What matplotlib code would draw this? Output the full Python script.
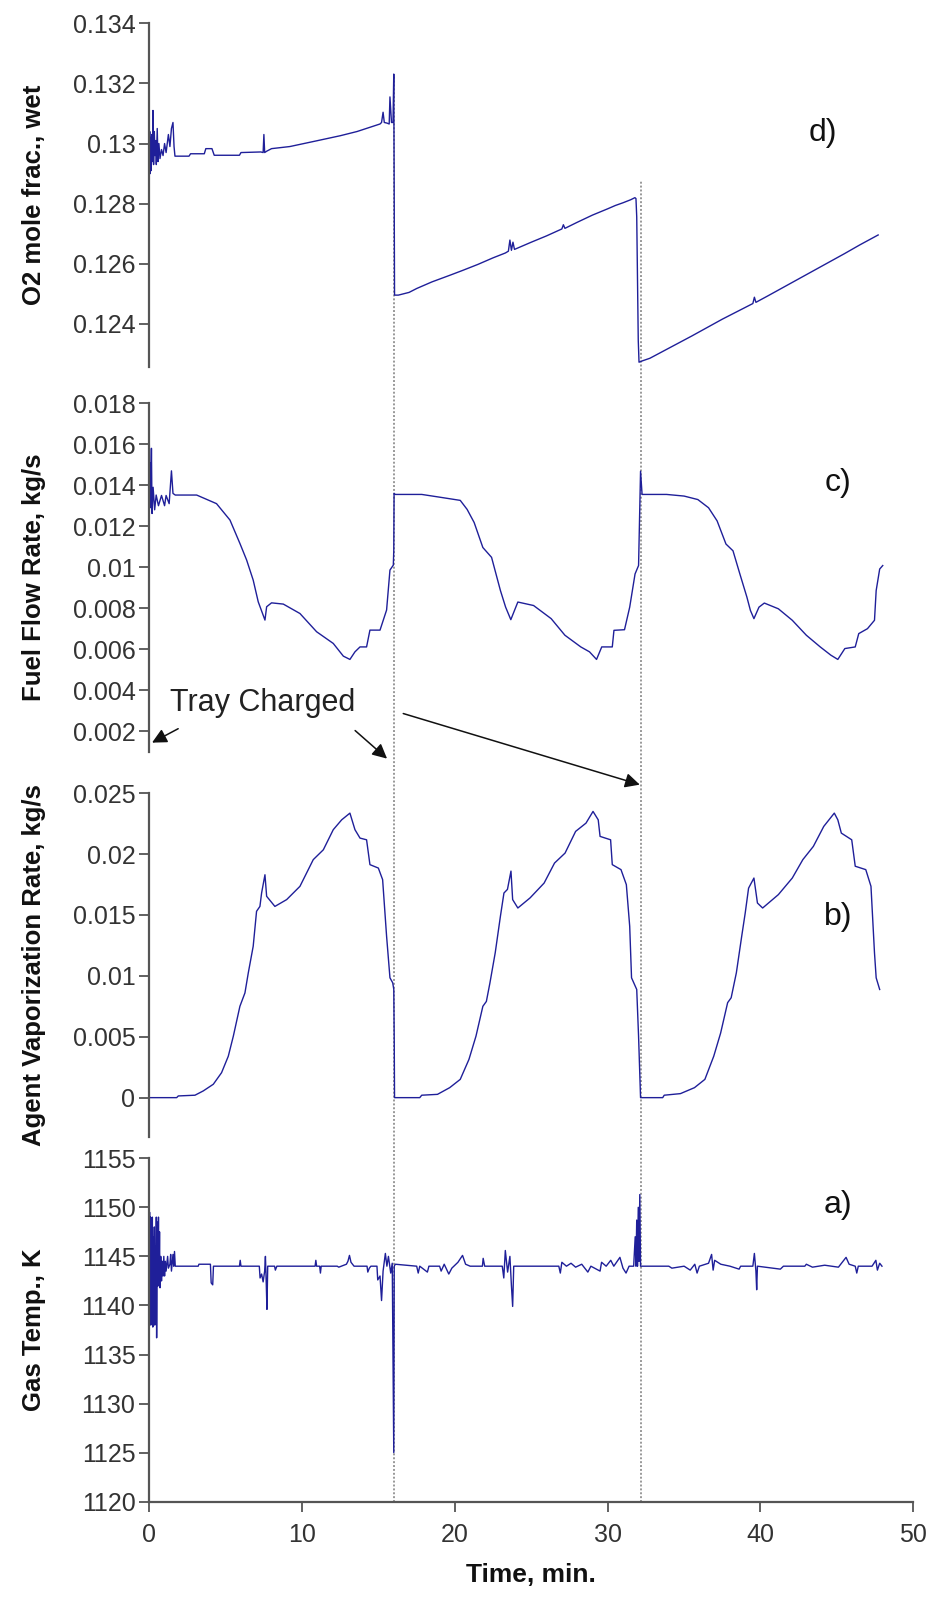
import matplotlib
matplotlib.use("Agg")
import matplotlib.pyplot as plt
import matplotlib.transforms as mtransforms
from matplotlib.lines import Line2D
from matplotlib.ticker import FuncFormatter

plt.rcParams['font.family'] = ['Liberation Sans', 'DejaVu Sans']

# ---------------- data ----------------
# d) O2 mole fraction, wet
time_o2 = [0.0, 0.03, 0.06, 0.09, 0.12, 0.16, 0.2, 0.24, 0.28, 0.33, 0.37, 0.42, 0.46, 0.52, 0.57,
           0.63, 0.7, 0.8, 0.9, 1.0, 1.1, 1.25, 1.35, 1.45, 1.55, 1.62, 1.68, 2.6, 2.7, 3.6, 3.7,
           4.1, 4.25, 5.9, 6.0, 7.3, 7.45, 7.5, 7.55, 7.7, 8.0, 9.2, 10.95, 12.5, 13.6, 14.44,
           15.1, 15.2, 15.3, 15.38, 15.55, 15.7, 15.75, 15.85, 15.95, 16.0, 16.05,
           16.3, 17.0, 17.5, 18.5, 19.67, 20.5, 21.5, 22.5, 23.3, 23.5, 23.6, 23.7, 23.8, 23.9,
           25.0, 26.0, 27.0, 27.1, 27.2, 28.0, 29.0, 30.0, 30.5, 31.0, 31.5, 31.78, 31.85, 31.9,
           32.0, 32.05, 32.3, 32.76, 33.5, 34.5, 35.5, 36.5, 37.5, 38.5, 39.5, 39.6, 39.7, 40.5,
           41.5, 42.5, 43.5, 44.5, 45.5, 46.5, 47.7]
o2 = [0.1293, 0.1304, 0.1290, 0.1302, 0.1291, 0.1303, 0.1294, 0.1311, 0.1293, 0.1304, 0.1296,
      0.1301, 0.1293, 0.1305, 0.1294, 0.1300, 0.1295, 0.1298, 0.1296, 0.1300, 0.1297, 0.1303,
      0.1299, 0.1305, 0.1307, 0.1299, 0.12958, 0.12958, 0.12966, 0.12966, 0.12983, 0.12983,
      0.12961, 0.12961, 0.1297, 0.12972, 0.1297, 0.1303, 0.1297, 0.12975, 0.12983, 0.1299,
      0.13009, 0.13026, 0.1304, 0.13054, 0.13065, 0.1307, 0.13104, 0.1307, 0.13068, 0.13065,
      0.13155, 0.1307, 0.1307, 0.13231, 0.12496,
      0.12496, 0.12505, 0.12518, 0.1254, 0.12562, 0.12578, 0.12598, 0.1262, 0.12636, 0.12642,
      0.12679, 0.12645, 0.12672, 0.12648, 0.12672, 0.12693, 0.12716, 0.1273, 0.12718, 0.12738,
      0.12762, 0.12783, 0.12794, 0.12803, 0.12813, 0.1282, 0.12817, 0.12756, 0.12346, 0.12273,
      0.12278, 0.12286, 0.12306, 0.12333, 0.1236, 0.12388, 0.12416, 0.12442, 0.12468, 0.12489,
      0.12472, 0.12494, 0.12522, 0.1255, 0.12578, 0.12606, 0.12634, 0.12663, 0.12696]

# c) fuel flow rate, kg/s
time_fuel = [0.0, 0.03, 0.07, 0.1, 0.14, 0.18, 0.25, 0.35, 0.45, 0.6, 0.8, 1.0, 1.1, 1.3, 1.45,
             1.55, 1.7, 3.1, 4.4, 5.28, 5.93, 6.37, 6.8, 7.13, 7.57, 7.68, 8.0, 8.77, 9.86,
             10.95, 12.04, 12.7, 13.13, 13.46, 13.79, 14.22, 14.44, 15.1, 15.53, 15.75, 15.97,
             16.0, 16.02, 16.1, 17.83, 18.97, 20.35, 20.8, 21.26, 21.83, 22.4, 22.98, 23.32,
             23.66, 23.9, 24.12, 25.15, 26.3, 27.2, 28.24, 28.81, 29.27, 29.61, 30.3, 30.41,
             31.1, 31.44, 31.79, 32.02, 32.15, 32.25, 33.85, 35.0, 35.9, 36.6, 37.16, 37.74,
             38.2, 38.65, 39.11, 39.34, 39.57, 39.9, 40.25, 41.17, 42.08, 43.0, 43.91, 44.6,
             45.06, 45.52, 46.2, 46.43, 47.0, 47.46, 47.57, 47.8, 48.0]
fuel = [0.0161, 0.0143, 0.0151, 0.0129, 0.0158, 0.01262, 0.0139, 0.0128, 0.01352, 0.0130,
        0.0135, 0.0130, 0.0135, 0.0131, 0.0147, 0.0136, 0.01352, 0.01352, 0.0131, 0.0123,
        0.01116, 0.01035, 0.00937, 0.00831, 0.00742, 0.00807, 0.00826, 0.0082, 0.00774,
        0.00685, 0.00628, 0.00566, 0.0055, 0.00587, 0.00611, 0.00611, 0.00693, 0.00693,
        0.00791, 0.00986, 0.0101, 0.0108, 0.0136, 0.01355, 0.01355, 0.01342, 0.01326,
        0.01282, 0.01218, 0.01096, 0.01048, 0.00886, 0.00805, 0.00744, 0.00789, 0.0083,
        0.00813, 0.00749, 0.00668, 0.00611, 0.00587, 0.0055, 0.00611, 0.00611, 0.00692,
        0.00695, 0.00805, 0.00967, 0.01008, 0.01468, 0.01355, 0.01355, 0.01347, 0.0133,
        0.0129, 0.01226, 0.01113, 0.0108, 0.00967, 0.00854, 0.00789, 0.00749, 0.00805,
        0.00825, 0.00797, 0.00741, 0.00668, 0.00611, 0.00571, 0.0055, 0.00603, 0.00611,
        0.00676, 0.007, 0.00741, 0.00886, 0.00991, 0.01008]

# b) agent vaporization rate, kg/s
time_agent = [0.0, 1.79, 1.9, 2.99, 3.53, 4.19, 4.73, 5.17, 5.5, 5.93, 6.26, 6.48, 6.8, 7.02,
              7.24, 7.35, 7.57, 7.68, 8.22, 8.99, 9.86, 10.73, 11.39, 12.04, 12.59, 13.13,
              13.46, 13.79, 14.22, 14.44, 14.99, 15.27, 15.53, 15.75, 15.93, 16.0, 16.03, 16.05,
              17.7, 17.83, 18.86, 19.66, 20.35, 20.92, 21.38, 21.83, 22.06, 22.29, 22.64, 22.98,
              23.21, 23.44, 23.67, 23.78, 24.12, 24.92, 25.84, 26.52, 27.21, 27.9, 28.58,
              29.04, 29.38, 29.5, 30.19, 30.3, 30.87, 31.22, 31.44, 31.56, 31.9, 32.02, 32.15,
              33.6, 33.7, 34.76, 35.68, 36.36, 36.94, 37.39, 37.85, 38.08, 38.42, 38.77, 39.0,
              39.22, 39.57, 39.8, 40.14, 41.17, 42.08, 42.77, 43.46, 44.14, 44.83, 45.06,
              45.29, 45.97, 46.2, 46.89, 47.23, 47.46, 47.57, 47.8]
agent = [0.0, 0.0, 0.00014, 0.0002, 0.00055, 0.0011, 0.00205, 0.0034, 0.00505, 0.0075, 0.0086,
         0.01025, 0.01243, 0.0153, 0.0157, 0.0168, 0.0183, 0.01653, 0.0157, 0.01626, 0.01735,
         0.01954, 0.02035, 0.022, 0.02281, 0.02336, 0.022, 0.02131, 0.02117, 0.01913, 0.01885,
         0.0179, 0.01325, 0.00984, 0.00943, 0.0089, 0.0047, 0.0,
         0.0, 0.0002, 0.00027, 0.00082, 0.0015, 0.00314, 0.00505, 0.0075, 0.0079, 0.0094,
         0.0119, 0.0149, 0.0168, 0.0171, 0.0186, 0.01626, 0.01557, 0.0164, 0.01762, 0.01926,
         0.02008, 0.02186, 0.02254, 0.0235, 0.02281, 0.02145, 0.02117, 0.01913, 0.01872,
         0.01749, 0.01407, 0.00984, 0.00888, 0.00505, 0.0,
         0.0, 0.0002, 0.00033, 0.00082, 0.0015, 0.0034, 0.0053, 0.0078, 0.0082, 0.01025,
         0.01325, 0.01516, 0.0172, 0.01803, 0.01598, 0.01557, 0.01667, 0.01803, 0.01954,
         0.02063, 0.02227, 0.02336, 0.02281, 0.02172, 0.02117, 0.019, 0.01872, 0.01735,
         0.01189, 0.00984, 0.00888]

# a) gas temperature, K
time_gas = [0.0, 0.02, 0.05, 0.08, 0.1, 0.13, 0.16, 0.2, 0.23, 0.27, 0.3, 0.33, 0.36, 0.4, 0.43,
            0.46, 0.48, 0.52, 0.56, 0.6, 0.63, 0.67, 0.7, 0.75, 0.8, 0.85, 0.9, 0.95, 1.0, 1.05,
            1.1, 1.2, 1.25, 1.35, 1.4, 1.45, 1.55, 1.6, 1.65, 1.7, 3.2, 3.25, 4.0, 4.05, 4.15,
            4.2, 5.9, 5.95, 6.0, 7.2, 7.25, 7.35, 7.45, 7.55, 7.6, 7.65, 7.7, 7.75, 8.2, 8.25,
            8.35, 10.85, 10.9, 10.95, 11.15, 11.2, 11.25, 12.3, 12.4, 12.9, 13.0, 13.1, 13.2,
            13.4, 14.25, 14.3, 14.4, 14.5, 14.9, 14.95, 15.1, 15.2, 15.3, 15.45, 15.55, 15.65,
            15.8, 15.9, 15.95, 16.0, 16.03, 16.1,
            17.5, 17.6, 17.7, 18.2, 18.3, 19.0, 19.1, 19.3, 19.6, 19.8, 20.2, 20.5, 20.7, 21.0,
            21.8, 21.85, 21.95, 23.1, 23.2, 23.3, 23.45, 23.6, 23.7, 23.78, 23.85, 26.8, 26.9,
            27.0, 27.3, 27.6, 27.9, 28.3, 28.7, 28.9, 29.5, 29.6, 29.9, 30.2, 30.4, 30.8, 31.0,
            31.2, 31.4, 31.7, 31.8, 31.85, 31.9, 31.95, 32.0, 32.05, 32.1, 32.15, 32.2,
            34.0, 34.2, 35.0, 35.4, 35.7, 35.85, 36.0, 36.6, 36.8, 36.9, 37.0, 37.4, 38.0, 38.6,
            38.7, 39.5, 39.6, 39.7, 39.75, 39.8, 41.3, 41.5, 42.9, 43.0, 43.4, 44.2, 45.1, 45.4,
            45.6, 45.8, 46.2, 46.3, 46.4, 47.3, 47.55, 47.65, 47.8, 47.95]
gas_temp = [1144, 1149.5, 1140, 1149, 1138, 1148.5, 1141, 1149, 1137.8, 1147, 1142, 1148, 1138,
            1146, 1141.7, 1149, 1136.7, 1148.5, 1142, 1149, 1142, 1147.5, 1141.8, 1145, 1142.5,
            1144.5, 1143, 1145, 1143, 1144.5, 1143.5, 1145, 1143.8, 1144.2, 1145.2, 1143.5,
            1145.2, 1144, 1145.5, 1144, 1144, 1144.2, 1144.2, 1142.3, 1142.1, 1144, 1144, 1144.6,
            1144, 1144, 1142.8, 1143.2, 1142.4, 1143.5, 1145, 1142.5, 1139.6, 1144, 1144, 1143.6,
            1144, 1144, 1144.6, 1144, 1144, 1143.3, 1144, 1144, 1143.9, 1144.2, 1144.5, 1145.1,
            1144.4, 1144, 1144, 1143.4, 1143.8, 1144, 1144, 1142.6, 1143, 1140.5, 1143.5, 1145.3,
            1144, 1145, 1143.3, 1144.3, 1135.3, 1125, 1144, 1144.2,
            1144, 1143.3, 1144, 1143.4, 1144, 1144, 1143.5, 1144.2, 1143.2, 1143.8, 1144.4,
            1145.1, 1144.2, 1144, 1144, 1144.8, 1144, 1144, 1142.8, 1145.6, 1143.4, 1145, 1142,
            1139.9, 1144, 1144, 1143.3, 1144.4, 1144, 1144.3, 1143.9, 1144.2, 1143.4, 1144,
            1143.5, 1144.4, 1144, 1144.6, 1144, 1144.9, 1143.8, 1143.3, 1144, 1144, 1147, 1144,
            1148.7, 1144, 1150, 1144.5, 1151.3, 1144, 1144,
            1144, 1143.8, 1144, 1143.6, 1144.2, 1143.3, 1144, 1144.3, 1145.2, 1143.6, 1144.6,
            1144.2, 1144, 1143.7, 1144, 1144, 1145.3, 1143.5, 1141.6, 1144, 1143.7, 1144, 1144,
            1144.2, 1143.9, 1144.1, 1143.9, 1144.5, 1144.9, 1144.2, 1144, 1143.3, 1144, 1144,
            1144.6, 1143.6, 1144.3, 1144]

charge_times = [16.0, 32.2]

# ---------------- figure ----------------
line_color = '#1f1f99'
axis_color = '#555555'
text_color = '#333333'

fig = plt.figure(figsize=(9.29, 16.02), dpi=100)
left, width = 0.1607, 0.8224
ax_d = fig.add_axes([left, 0.7711, width, 0.2144])
ax_c = fig.add_axes([left, 0.5308, width, 0.2175])
ax_b = fig.add_axes([left, 0.2905, width, 0.2144])
ax_a = fig.add_axes([left, 0.0626, width, 0.2144])

panels = [
    (ax_d, time_o2, o2, (0.12258, 0.134), [0.124, 0.126, 0.128, 0.130, 0.132, 0.134],
     'O2 mole frac., wet', 'd)', 44.1, 0.13035),
    (ax_c, time_fuel, fuel, (0.001, 0.018), [0.002, 0.004, 0.006, 0.008, 0.010, 0.012, 0.014, 0.016, 0.018],
     'Fuel Flow Rate, kg/s', 'c)', 45.1, 0.0141),
    (ax_b, time_agent, agent, (-0.0032, 0.025), [0, 0.005, 0.010, 0.015, 0.020, 0.025],
     'Agent Vaporization Rate, kg/s', 'b)', 45.1, 0.0148),
    (ax_a, time_gas, gas_temp, (1120, 1155), [1120, 1125, 1130, 1135, 1140, 1145, 1150, 1155],
     'Gas Temp., K', 'a)', 45.1, 1150.2),
]

for ax, t, y, ylim, yticks, ylabel, tag, tx, ty in panels:
    ax.set_facecolor('none')
    ax.plot(t, y, color=line_color, lw=1.0)
    ax.set_xlim(0, 50)
    ax.set_ylim(*ylim)
    ax.set_yticks(yticks)
    ax.yaxis.set_major_formatter(FuncFormatter(lambda v, p: '%g' % round(v, 6)))
    for s in ['top', 'right', 'bottom']:
        ax.spines[s].set_visible(False)
    ax.spines['left'].set_color(axis_color)
    ax.spines['left'].set_linewidth(1.6)
    ax.tick_params(axis='y', direction='out', length=7, width=1.3, color=axis_color,
                   labelsize=18, labelcolor=text_color, pad=3)
    ax.set_ylabel(ylabel, fontsize=18.5, fontweight='bold', color='#111111')
    ax.yaxis.set_label_coords(-0.135, 0.5)
    ax.text(tx, ty, tag, fontsize=23, color='#111111', ha='center', va='center')
    if ax is not ax_a:
        ax.xaxis.set_visible(False)

ax_a.spines['bottom'].set_visible(True)
ax_a.spines['bottom'].set_color(axis_color)
ax_a.spines['bottom'].set_linewidth(1.6)
ax_a.set_xticks([0, 10, 20, 30, 40, 50])
ax_a.tick_params(axis='x', direction='out', length=7, width=1.3, color=axis_color,
                 labelsize=18, labelcolor=text_color, pad=8)
ax_a.set_xlabel('Time, min.', fontsize=19, fontweight='bold', color='#111111', labelpad=12)

# dotted lines marking the tray charges, running through all panels
trans = mtransforms.blended_transform_factory(ax_a.transData, fig.transFigure)
for xc, top in zip(charge_times, [0.9532, 0.8876]):
    fig.add_artist(Line2D([xc, xc], [0.0626, top], transform=trans, color='#999999',
                          lw=1.4, ls=(0, (1, 1)), zorder=-1))

# "Tray Charged" annotation
ax_c.text(1.35, 0.00339, 'Tray Charged', fontsize=22, color='#222222', va='center', ha='left')
arrows = [((1.89, 0.00212), (0.18, 0.00144)),
          ((13.47, 0.00203), (15.56, 0.00066)),
          ((16.62, 0.00286), (32.1, -0.00061))]
for tail, head in arrows:
    ax_c.annotate('', xy=head, xytext=tail, annotation_clip=False,
                  arrowprops=dict(arrowstyle='-|>', color='#111111', lw=1.1,
                                  mutation_scale=22, shrinkA=0, shrinkB=0))

plt.savefig('out.png', dpi=100)
